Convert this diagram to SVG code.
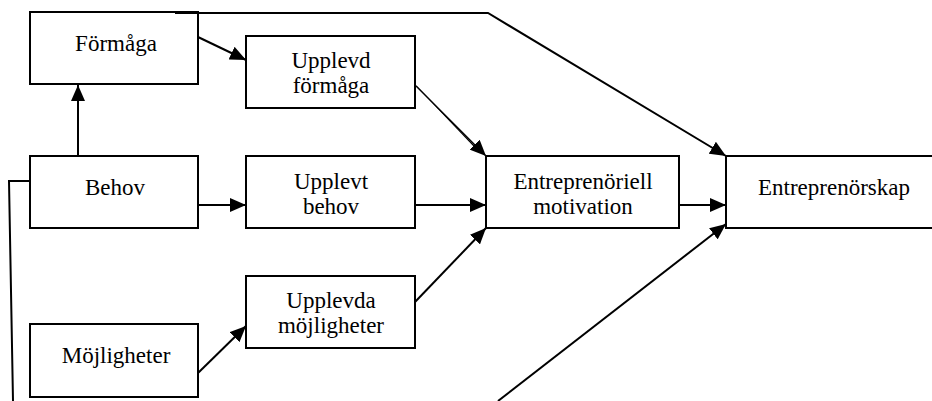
<svg xmlns="http://www.w3.org/2000/svg" width="932" height="401" viewBox="0 0 932 401">
<style>
  .box { fill: #ffffff; stroke: #000000; stroke-width: 2; }
  .lbl { font-family: "Liberation Serif", "Times New Roman", serif; font-size: 23px; fill: #000000; text-anchor: middle; }
  .con { fill: none; stroke: #000000; stroke-width: 2; }
  .thin { fill: none; stroke: #000000; stroke-width: 1.3; }
</style>
<defs>
  <marker id="arr" markerUnits="userSpaceOnUse" markerWidth="16" markerHeight="14" refX="16" refY="7" orient="auto">
    <path d="M0,0 L16,7 L0,14 z" fill="#000000"/>
  </marker>
</defs>
<rect x="0" y="0" width="932" height="401" fill="#ffffff"/>

<g id="formaga">
  <rect class="box" x="30" y="12" width="168" height="72"/>
  <text class="lbl" x="116" y="51">Förmåga</text>
</g>
<g id="upplevd-formaga">
  <rect class="box" x="246" y="36" width="169" height="72"/>
  <text class="lbl" x="331" y="68">Upplevd</text>
  <text class="lbl" x="331" y="93">förmåga</text>
</g>
<g id="behov">
  <rect class="box" x="30" y="156" width="168" height="72"/>
  <text class="lbl" x="115" y="195">Behov</text>
</g>
<g id="upplevt-behov">
  <rect class="box" x="246" y="156" width="169" height="72"/>
  <text class="lbl" x="331" y="189">Upplevt</text>
  <text class="lbl" x="331" y="214">behov</text>
</g>
<g id="entreprenoriell-motivation">
  <rect class="box" x="486" y="156" width="193" height="72"/>
  <text class="lbl" x="583" y="189">Entreprenöriell</text>
  <text class="lbl" x="583" y="214">motivation</text>
</g>
<g id="entreprenorskap">
  <rect class="box" x="726" y="156" width="220" height="72"/>
  <text class="lbl" x="834" y="195">Entreprenörskap</text>
</g>
<g id="upplevda-mojligheter">
  <rect class="box" x="246" y="276" width="169" height="72"/>
  <text class="lbl" x="331" y="308">Upplevda</text>
  <text class="lbl" x="331" y="333">möjligheter</text>
</g>
<g id="mojligheter">
  <rect class="box" x="30" y="324" width="168" height="73"/>
  <text class="lbl" x="116" y="363">Möjligheter</text>
</g>

<g id="connectors">
  <line class="con" x1="78" y1="156" x2="78" y2="85" marker-end="url(#arr)"/>
  <line class="con" x1="198" y1="37" x2="246" y2="60" marker-end="url(#arr)"/>
  <line class="con" x1="198" y1="205" x2="246" y2="205" marker-end="url(#arr)"/>
  <line class="con" x1="198" y1="373" x2="246" y2="326" marker-end="url(#arr)"/>
  <polygon points="414,84 417,86 476,147 475,148" fill="#000000"/>
  <line class="thin" x1="416" y1="86" x2="486" y2="156" marker-end="url(#arr)" stroke-width="0.8"/>
  <line class="con" x1="415" y1="205" x2="486" y2="205" marker-end="url(#arr)"/>
  <line class="con" x1="415" y1="302" x2="486" y2="228" marker-end="url(#arr)"/>
  <line class="con" x1="679" y1="205" x2="726" y2="205" marker-end="url(#arr)"/>
  <polyline class="con" points="175,13 488,13 726,156" marker-end="url(#arr)"/>
  <line class="con" x1="498" y1="401" x2="726" y2="224" marker-end="url(#arr)"/>
  <polyline class="con" points="30,181 9,181 13,401"/>
</g>
</svg>
